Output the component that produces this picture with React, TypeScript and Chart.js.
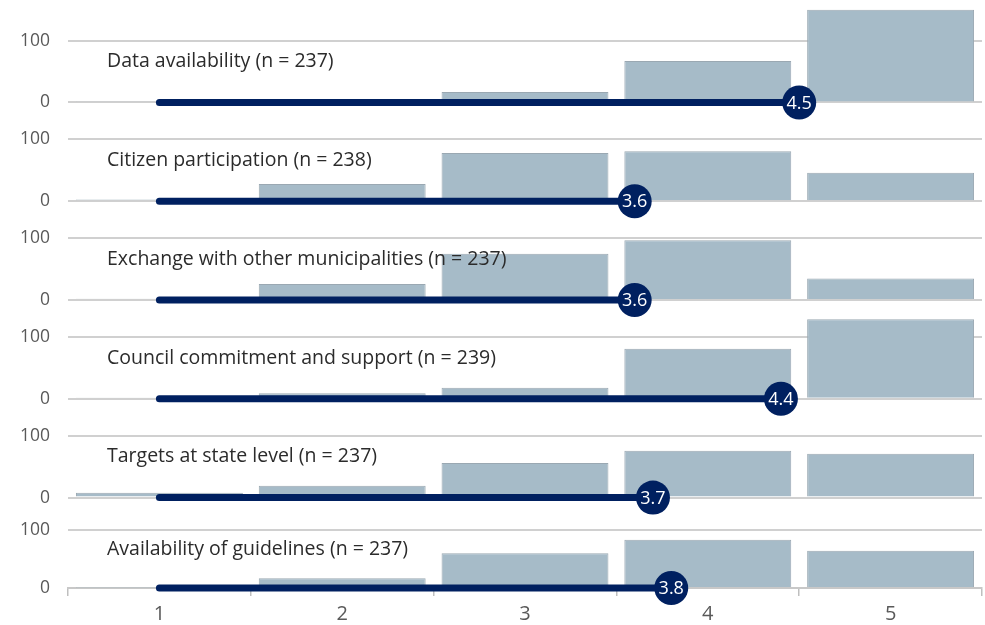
import React, { useEffect, useRef } from 'react';
import { Chart, registerables } from 'chart.js';

Chart.register(...registerables);

const categories = ['1', '2', '3', '4', '5'];

const panelTitles = [
  'Data availability (n = 237)',
  'Citizen participation (n = 238)',
  'Exchange with other municipalities (n = 237)',
  'Council commitment and support (n = 239)',
  'Targets at state level (n = 237)',
  'Availability of guidelines (n = 237)',
];

const dataAvailability = [2, 3, 17, 67, 150];
const citizenParticipation = [3, 28, 78, 81, 46];
const exchangeMunicipalities = [2, 26, 75, 97, 35];
const councilCommitment = [2, 9, 18, 81, 129];
const targetsStateLevel = [8, 19, 56, 76, 71];
const availabilityGuidelines = [1, 17, 60, 83, 64];

const panelValues = [
  dataAvailability,
  citizenParticipation,
  exchangeMunicipalities,
  councilCommitment,
  targetsStateLevel,
  availabilityGuidelines,
];

const meanValues = [4.5, 3.6, 3.6, 4.4, 3.7, 3.8];

const yTickValues = [0, 100];

const FONT = '"Open Sans"';
const NAVY = '#002060';

export default function App() {
  const ref = useRef<HTMLCanvasElement | null>(null);

  useEffect(() => {
    const canvas = ref.current;
    if (!canvas) return;

    const barSets = panelValues.map((vals, i) => ({
      type: 'bar' as const,
      label: panelTitles[i],
      data: vals,
      xAxisID: 'x',
      yAxisID: 'y' + i,
      backgroundColor: '#a6bbc8',
      borderColor: '#9aa8b2',
      borderWidth: 1,
      grouped: false,
      barPercentage: 0.913,
      categoryPercentage: 1,
      clip: false as const,
      order: 2,
    }));

    const lineSets = meanValues.map((m, i) => ({
      type: 'line' as const,
      label: 'mean ' + i,
      data: [
        { x: 1, y: 0 },
        { x: m, y: 0 },
      ],
      xAxisID: 'xl',
      yAxisID: 'y' + i,
      borderColor: NAVY,
      borderWidth: 7,
      borderCapStyle: 'round' as const,
      pointRadius: [0, 17],
      pointHoverRadius: [0, 17],
      pointBackgroundColor: NAVY,
      pointBorderWidth: 0,
      clip: false as const,
      order: 0,
    }));

    const scales: any = {
      x: {
        type: 'category',
        position: 'bottom',
        offset: true,
        grid: {
          offset: true,
          drawOnChartArea: false,
          drawTicks: true,
          tickLength: 8,
          color: '#bfbfbf',
          lineWidth: 1.5,
        },
        border: { display: true, color: '#c8c8c8', width: 2 },
        ticks: {
          color: '#595959',
          font: { family: FONT, size: 20 },
          padding: 6,
        },
        afterFit: (s: any) => {
          s.height = 37;
        },
      },
      xl: {
        type: 'linear',
        min: 0.5,
        max: 5.5,
        offset: false,
        display: false,
      },
    };

    panelValues.forEach((_, i) => {
      const last = i === panelValues.length - 1;
      scales['y' + i] = {
        type: 'linear',
        position: 'left',
        stack: 'panels',
        stackWeight: last ? 0.79 : 1,
        weight: 10 - i,
        min: last ? 0 : -20,
        max: last ? 134.5 : 140,
        afterBuildTicks: (s: any) => {
          s.ticks = yTickValues.map((v) => ({ value: v }));
        },
        afterFit: (s: any) => {
          s.width = 68;
          s.paddingTop = 0;
          s.paddingBottom = 0;
        },
        border: { display: false },
        grid: {
          drawTicks: false,
          color: '#d0d0d0',
          lineWidth: 2,
        },
        ticks: {
          color: '#595959',
          font: { family: FONT, size: 17.5 },
          padding: 18,
        },
      };
    });

    const overlay = {
      id: 'overlay',
      afterDatasetsDraw(chart: any) {
        const ctx = chart.ctx;
        ctx.save();
        ctx.textAlign = 'left';
        ctx.textBaseline = 'middle';
        ctx.fillStyle = '#2b2b2b';
        ctx.font = `19.5px ${FONT}`;
        panelTitles.forEach((t, i) => {
          const ys = chart.scales['y' + i];
          ctx.fillText(t, chart.chartArea.left + 39, ys.getPixelForValue(66));
        });
        ctx.textAlign = 'center';
        ctx.fillStyle = '#ffffff';
        ctx.font = `18px ${FONT}`;
        meanValues.forEach((m, i) => {
          const meta = chart.getDatasetMeta(panelValues.length + i);
          const pt = meta.data[1];
          if (pt) ctx.fillText(m.toFixed(1), pt.x, pt.y + 1);
        });
        ctx.restore();
      },
    };

    const chart = new Chart(canvas, {
      type: 'bar',
      data: {
        labels: categories,
        datasets: [...barSets, ...lineSets] as any,
      },
      options: {
        animation: false,
        responsive: false,
        devicePixelRatio: 1,
        layout: { autoPadding: false, padding: { top: 16, right: 3, left: 0, bottom: 0 } },
        plugins: {
          legend: { display: false },
          tooltip: { enabled: false },
        },
        scales,
      },
      plugins: [overlay],
    });

    return () => chart.destroy();
  }, []);

  return (
    <div style={{ position: 'fixed', left: 0, top: 0, width: 985, height: 625, background: '#fff' }}>
      <canvas ref={ref} width={985} height={625} style={{ display: 'block' }} />
    </div>
  );
}
